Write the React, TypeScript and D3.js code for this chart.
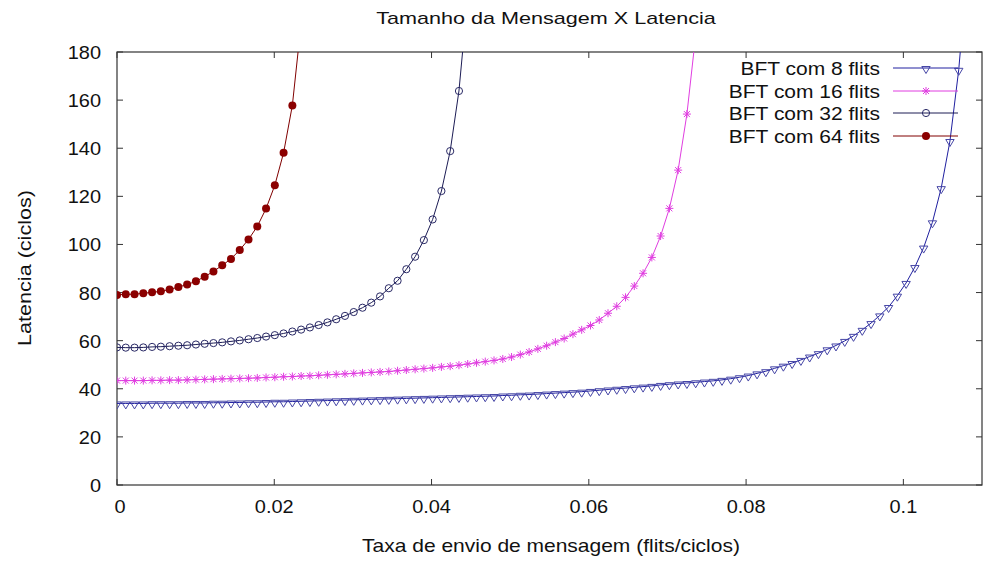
import React, { useRef, useEffect } from 'react';
import * as d3 from 'd3';

const RATE_STEP = 0.001115;

const xTicks = [0, 0.02, 0.04, 0.06, 0.08, 0.1];
const xTickLabels = ['0', '0.02', '0.04', '0.06', '0.08', '0.1'];
const yTicks = [0, 20, 40, 60, 80, 100, 120, 140, 160, 180];

const seriesNames = ['BFT com 8 flits', 'BFT com 16 flits', 'BFT com 32 flits', 'BFT com 64 flits'];

// latencia (ciclos) per sample; the last value of each list is past the top of the chart
const lat8 = [
  33.9, 33.9, 33.9, 33.9, 34.0, 34.0, 34.0, 34.0, 34.1, 34.1,
  34.1, 34.2, 34.2, 34.3, 34.3, 34.4, 34.4, 34.5, 34.6, 34.6,
  34.7, 34.8, 34.9, 35.0, 35.1, 35.2, 35.3, 35.4, 35.5, 35.6,
  35.7, 35.8, 35.9, 36.0, 36.1, 36.2, 36.3, 36.4, 36.5, 36.6,
  36.7, 36.8, 36.9, 37.0, 37.2, 37.3, 37.5, 37.6, 37.8, 38.0,
  38.2, 38.4, 38.6, 38.8, 39.1, 39.4, 39.7, 40.0, 40.3, 40.6,
  40.9, 41.2, 41.6, 41.9, 42.2, 42.4, 42.7, 43.0, 43.3, 43.7,
  44.2, 44.8, 45.5, 46.4, 47.3, 48.5, 49.6, 50.7, 52.0, 53.4,
  54.8, 56.4, 58.0, 59.9, 62.0, 64.5, 67.3, 70.5, 74.0, 78.7,
  84.0, 90.6, 98.7, 109.2, 123.4, 143.0, 172.6, 215,
];
const lat16 = [
  43.4, 43.4, 43.4, 43.4, 43.5, 43.5, 43.6, 43.6, 43.7, 43.8,
  43.9, 44.0, 44.1, 44.2, 44.3, 44.4, 44.5, 44.7, 44.8, 45.0,
  45.1, 45.3, 45.4, 45.6, 45.8, 46.0, 46.2, 46.4, 46.6, 46.8,
  47.0, 47.2, 47.5, 47.8, 48.1, 48.4, 48.7, 49.1, 49.4, 49.8,
  50.3, 50.8, 51.3, 51.8, 52.4, 53.2, 54.2, 55.3, 56.6, 57.9,
  59.4, 60.9, 62.7, 64.5, 66.3, 68.6, 71.4, 74.3, 78.0, 82.7,
  88.0, 94.6, 103.5, 115.0, 130.9, 154.2, 187,
];
const lat32 = [
  57.2, 57.1, 57.1, 57.2, 57.4, 57.5, 57.7, 57.9, 58.1, 58.4,
  58.7, 59.0, 59.3, 59.7, 60.1, 60.6, 61.1, 61.7, 62.3, 63.0,
  63.8, 64.6, 65.5, 66.5, 67.6, 68.9, 70.3, 71.9, 73.7, 75.8,
  78.4, 81.8, 84.9, 89.7, 94.9, 101.8, 110.4, 122.2, 138.8, 163.8,
  203,
];
const lat64 = [
  79.0, 79.3, 79.3, 79.7, 80.1, 80.5, 81.3, 82.3, 83.3, 84.7,
  86.6, 88.8, 91.3, 94.0, 97.7, 102.1, 107.5, 114.9, 124.6, 138.1,
  157.8, 192,
];

const lineColors = ['#2020a0', '#e03de0', '#1c1c55', '#800000'];
const markerColors = ['#4646a6', '#e03de0', '#2a2a66', '#8b0000'];
const markerKinds = ['triangle', 'star', 'ring', 'dot'];

const FONT = '"Liberation Sans", Arial, sans-serif';

function markerPath(kind: string, x: number, y: number) {
  if (kind === 'triangle') return `M${x - 4.2},${y - 1.5}L${x + 4.2},${y - 1.5}L${x},${y + 5.5}Z`;
  if (kind === 'star')
    return `M${x - 4},${y}H${x + 4}M${x},${y - 4}V${y + 4}M${x - 3},${y - 3}L${x + 3},${y + 3}M${x - 3},${y + 3}L${x + 3},${y - 3}`;
  return '';
}

function drawMarker(g: any, kind: string, color: string, x: number, y: number) {
  if (kind === 'ring') {
    g.append('circle').attr('cx', x).attr('cy', y).attr('r', 3.6)
      .attr('fill', 'none').attr('stroke', color).attr('stroke-width', 1);
  } else if (kind === 'dot') {
    g.append('circle').attr('cx', x).attr('cy', y).attr('r', 4).attr('fill', color);
  } else {
    g.append('path').attr('d', markerPath(kind, x, y))
      .attr('fill', 'none').attr('stroke', color).attr('stroke-width', 1);
  }
}

function App() {
  const svgRef = useRef<SVGSVGElement>(null);

  useEffect(() => {
    const width = 986;
    const height = 561;
    const left = 117, right = 982, top = 52, bottom = 485;

    const svg = d3.select(svgRef.current);
    svg.selectAll('*').remove();
    svg.attr('width', width).attr('height', height);

    svg.append('rect').attr('width', width).attr('height', height).attr('fill', '#fff');

    const x = d3.scaleLinear().domain([0, 0.11]).range([left, right]);
    const y = d3.scaleLinear().domain([0, 180]).range([bottom, top]);

    // stretched text, the source picture is wider than it is tall
    const label = (tx: number, ty: number, s: string, size: number, anchor: string, sx = 1.2, rot = 0) =>
      svg.append('text')
        .attr('transform', `translate(${tx},${ty})${rot ? ` rotate(${rot})` : ''} scale(${sx},1)`)
        .attr('text-anchor', anchor)
        .attr('font-family', FONT)
        .attr('font-size', size)
        .attr('fill', '#111')
        .text(s);

    svg.append('defs').append('clipPath').attr('id', 'plot-clip')
      .append('rect').attr('x', left).attr('y', top).attr('width', right - left).attr('height', bottom - top);

    // frame + mirrored ticks
    const axisColor = '#333';
    svg.append('rect').attr('x', left).attr('y', top).attr('width', right - left).attr('height', bottom - top)
      .attr('fill', 'none').attr('stroke', axisColor).attr('stroke-width', 1.2);

    yTicks.forEach(v => {
      const py = y(v);
      svg.append('line').attr('x1', left).attr('x2', left + 6).attr('y1', py).attr('y2', py).attr('stroke', axisColor);
      svg.append('line').attr('x1', right).attr('x2', right - 6).attr('y1', py).attr('y2', py).attr('stroke', axisColor);
      label(101, py + 7, String(v), 19, 'end', 1.05);
    });
    xTicks.forEach((v, i) => {
      const px = x(v);
      svg.append('line').attr('x1', px).attr('x2', px).attr('y1', bottom).attr('y2', bottom - 6).attr('stroke', axisColor);
      svg.append('line').attr('x1', px).attr('x2', px).attr('y1', top).attr('y2', top + 6).attr('stroke', axisColor);
      label(i === 0 ? px + 3 : px, 513, xTickLabels[i], 19, 'middle', 1.05);
    });

    label(546, 24, 'Tamanho da Mensagem X Latencia', 17, 'middle', 1.27);
    label(551, 552, 'Taxa de envio de mensagem (flits/ciclos)', 17.5, 'middle', 1.2);
    label(31, 268, 'Latencia (ciclos)', 18, 'middle', 1.2, -90);

    const plot = svg.append('g').attr('clip-path', 'url(#plot-clip)');
    const line = d3.line<number>().x((_, i) => x(i * RATE_STEP)).y(d => y(d));

    const all = [lat8, lat16, lat32, lat64];
    // draw from 64 down so the 8 flits curve sits on top like the original
    [3, 2, 1, 0].forEach(k => {
      const data = all[k];
      plot.append('path').datum(data).attr('d', line)
        .attr('fill', 'none').attr('stroke', lineColors[k]).attr('stroke-width', 1);
      const mg = plot.append('g');
      data.forEach((d, i) => drawMarker(mg, markerKinds[k], markerColors[k], x(i * RATE_STEP), y(d)));
    });

    // legend
    const rowY = [68, 91, 113, 136];
    seriesNames.forEach((name, k) => {
      const ry = rowY[k];
      label(880, ry + 6.5, name, 17.5, 'end', 1.2);
      svg.append('line').attr('x1', 893).attr('x2', 958).attr('y1', ry).attr('y2', ry)
        .attr('stroke', lineColors[k]).attr('stroke-width', 1);
      drawMarker(svg, markerKinds[k], markerColors[k], 926, ry);
    });
  }, []);

  return <svg ref={svgRef} style={{ position: 'absolute', left: 0, top: 0, display: 'block' }} />;
}

export default App;
